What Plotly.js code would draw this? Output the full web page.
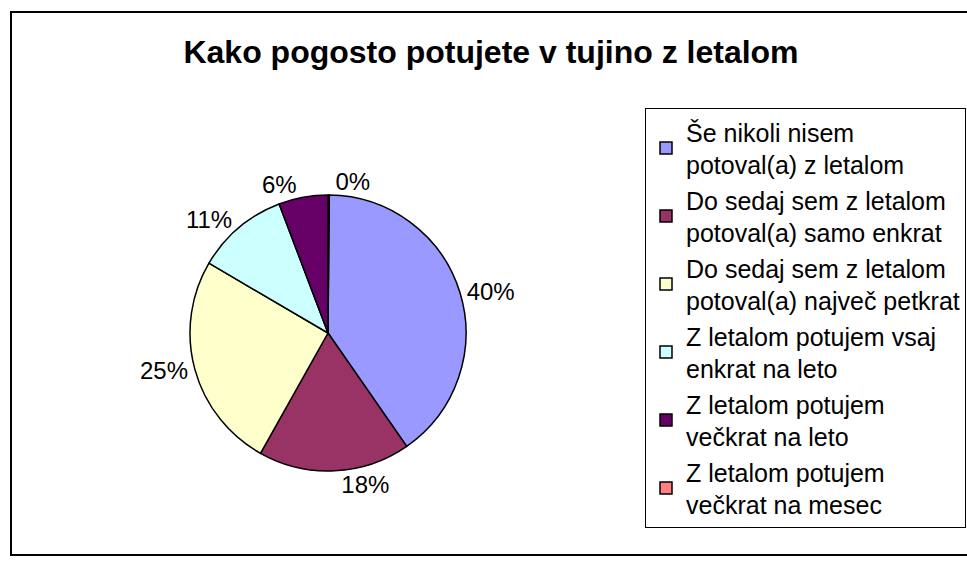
<!DOCTYPE html>
<html>
<head>
<meta charset="utf-8">
<script src="https://cdn.plot.ly/plotly-3.0.1.min.js"></script>
<style>html,body{margin:0;padding:0;background:#fff;}#chart{width:967px;height:566px;}</style>
</head>
<body>
<div id="chart"></div>
<script>
// Data (share of respondents, %)
const chartTitle = "Kako pogosto potujete v tujino z letalom";
const categories = [
  "Še nikoli nisem<br>potoval(a) z letalom",
  "Do sedaj sem z letalom<br>potoval(a) samo enkrat",
  "Do sedaj sem z letalom<br>potoval(a) največ petkrat",
  "Z letalom potujem vsaj<br>enkrat na leto",
  "Z letalom potujem<br>večkrat na leto",
  "Z letalom potujem<br>večkrat na mesec"
];
const shares = [40.2, 17.8, 25.3, 10.8, 5.8, 0.1];
const sliceColors = ["#9999FF", "#993366", "#FFFFCC", "#CCFFFF", "#660066", "#FF8080"];

const W = 967, H = 566;
const font = "Liberation Sans, Arial, sans-serif";
const cx = 328, cy = 333, R = 138;

const trace = {
  type: "pie",
  labels: categories,
  values: shares,
  sort: false,
  direction: "clockwise",
  rotation: 0.5,
  marker: { colors: sliceColors, line: { color: "#000000", width: 1.5 } },
  texttemplate: "%{percent:.0%}",
  textposition: "outside",
  textfont: { family: font, size: 24, color: "#000000" },
  outsidetextfont: { family: font, size: 24, color: "#000000" },
  hoverinfo: "label+percent",
  domain: { x: [(cx - R) / W, (cx + R) / W], y: [(H - cy - R) / H, (H - cy + R) / H] },
  automargin: false
};

const layout = {
  width: W, height: H,
  margin: { l: 0, r: 0, t: 0, b: 0, autoexpand: false },
  paper_bgcolor: "#ffffff",
  plot_bgcolor: "#ffffff",
  font: { family: font, color: "#000000" },
  title: {
    text: "<b>" + chartTitle + "</b>",
    font: { family: font, size: 32, color: "#000000" },
    x: 491 / W, xanchor: "center", xref: "paper",
    y: 1 - 52 / H, yanchor: "middle", yref: "container"
  },
  showlegend: true,
  legend: {
    x: 645 / W, xanchor: "left",
    y: 1 - 108 / H, yanchor: "top",
    bordercolor: "#000000", borderwidth: 1,
    bgcolor: "#ffffff",
    font: { family: font, size: 25, color: "#000000" },
    traceorder: "normal"
  },
  shapes: [{
    type: "rect", xref: "paper", yref: "paper",
    x0: 11 / W, x1: 1.02, y0: (H - 555) / H, y1: (H - 12) / H,
    line: { color: "#000000", width: 2 }, fillcolor: "rgba(0,0,0,0)", layer: "below"
  }]
};

Plotly.newPlot("chart", [trace], layout, { staticPlot: true, displayModeBar: false });
</script>
</body>
</html>
